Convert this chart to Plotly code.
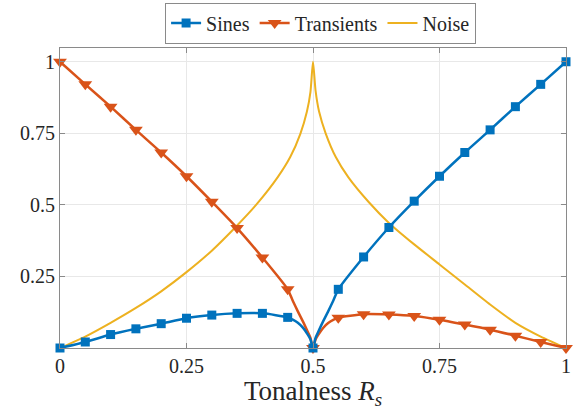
import plotly.graph_objects as go

# Marker positions (tonalness) and values
x_mark = [0.0, 0.05, 0.10, 0.15, 0.20, 0.25, 0.30, 0.35, 0.40, 0.45, 0.50,
          0.55, 0.60, 0.65, 0.70, 0.75, 0.80, 0.85, 0.90, 0.95, 1.0]
sines_mark = [0.0, 0.021, 0.047, 0.067, 0.085, 0.104, 0.115, 0.121, 0.121, 0.107, 0.0,
              0.205, 0.318, 0.421, 0.513, 0.600, 0.683, 0.762, 0.843, 0.921, 1.0]
trans_mark = [1.0, 0.921, 0.843, 0.762, 0.683, 0.600, 0.511, 0.419, 0.316, 0.205, 0.0,
              0.106, 0.118, 0.117, 0.112, 0.099, 0.082, 0.064, 0.043, 0.021, 0.0]

# Smooth line samples for sines / transients (markers plus points read near the cusp)
x_line = [0.0, 0.05, 0.10, 0.15, 0.20, 0.25, 0.30, 0.35, 0.40, 0.45, 0.46, 0.47, 0.48,
          0.49, 0.495, 0.50, 0.505, 0.51, 0.52, 0.53, 0.54, 0.55, 0.60, 0.65, 0.70,
          0.75, 0.80, 0.85, 0.90, 0.95, 1.0]
sines_line = [0.0, 0.021, 0.047, 0.067, 0.085, 0.104, 0.115, 0.121, 0.121, 0.107, 0.099,
              0.088, 0.071, 0.046, 0.030, 0.0, 0.035, 0.055, 0.093, 0.128, 0.165, 0.205,
              0.318, 0.421, 0.513, 0.600, 0.683, 0.762, 0.843, 0.921, 1.0]
trans_line = [1.0, 0.921, 0.843, 0.762, 0.683, 0.600, 0.511, 0.419, 0.316, 0.205, 0.165,
              0.128, 0.093, 0.055, 0.035, 0.0, 0.030, 0.045, 0.070, 0.087, 0.098, 0.106,
              0.118, 0.117, 0.112, 0.099, 0.082, 0.064, 0.043, 0.021, 0.0]

# Noise curve samples
x_noise = [0.0, 0.05, 0.10, 0.15, 0.20, 0.25, 0.30, 0.35, 0.39, 0.43, 0.455, 0.475,
           0.488, 0.495, 0.50, 0.505, 0.512, 0.525, 0.545, 0.57, 0.61, 0.65, 0.70,
           0.75, 0.80, 0.85, 0.90, 0.95, 1.0]
noise_line = [0.0, 0.040, 0.088, 0.140, 0.198, 0.265, 0.340, 0.428, 0.505, 0.596, 0.667,
              0.748, 0.826, 0.895, 1.0, 0.900, 0.826, 0.750, 0.667, 0.596, 0.510, 0.437,
              0.362, 0.292, 0.222, 0.152, 0.088, 0.040, 0.0]

x_ticks = [0, 0.25, 0.5, 0.75, 1]
x_tick_text = ["0", "0.25", "0.5", "0.75", "1"]
y_ticks = [0.25, 0.5, 0.75, 1]
y_tick_text = ["0.25", "0.5", "0.75", "1"]

BLUE = "#0072BD"
ORANGE = "#D95319"
YELLOW = "#EDB120"
FONT = "Liberation Serif, DejaVu Serif, serif"
TXT = "#262626"

fig = go.Figure()

# Smooth lines
fig.add_trace(go.Scatter(x=x_noise, y=noise_line, mode="lines", showlegend=False,
                         line=dict(color=YELLOW, width=2, shape="spline", smoothing=0.6),
                         cliponaxis=False, hoverinfo="skip"))
fig.add_trace(go.Scatter(x=x_line, y=trans_line, mode="lines", showlegend=False,
                         line=dict(color=ORANGE, width=2.5, shape="spline", smoothing=0.6),
                         cliponaxis=False, hoverinfo="skip"))
fig.add_trace(go.Scatter(x=x_line, y=sines_line, mode="lines", showlegend=False,
                         line=dict(color=BLUE, width=2.5, shape="spline", smoothing=0.6),
                         cliponaxis=False, hoverinfo="skip"))
# Markers
fig.add_trace(go.Scatter(x=x_mark, y=trans_mark, mode="markers", showlegend=False,
                         marker=dict(symbol="triangle-down", size=12, color=ORANGE),
                         cliponaxis=False))
fig.add_trace(go.Scatter(x=x_mark, y=sines_mark, mode="markers", showlegend=False,
                         marker=dict(symbol="square", size=9, color=BLUE),
                         cliponaxis=False))
# Legend entries
fig.add_trace(go.Scatter(x=[None], y=[None], mode="lines+markers", name="Sines",
                         line=dict(color=BLUE, width=2.5),
                         marker=dict(symbol="square", size=9, color=BLUE)))
fig.add_trace(go.Scatter(x=[None], y=[None], mode="lines+markers", name="Transients",
                         line=dict(color=ORANGE, width=2.5),
                         marker=dict(symbol="triangle-down", size=12, color=ORANGE)))
fig.add_trace(go.Scatter(x=[None], y=[None], mode="lines", name="Noise",
                         line=dict(color=YELLOW, width=2)))

axis_common = dict(
    showline=True, linecolor="#8a8a8a", linewidth=1, mirror="ticks",
    ticks="inside", ticklen=5, tickcolor="#8a8a8a",
    showgrid=True, gridcolor="#e8e8e8", gridwidth=1, zeroline=False,
    tickfont=dict(family=FONT, size=20, color=TXT),
    ticklabeloverflow="allow",
)

fig.update_xaxes(range=[0, 1], tickvals=x_ticks, ticktext=x_tick_text,
                 title=dict(text="Tonalness <i>R</i><sub><i>s</i></sub>",
                            font=dict(family=FONT, size=27, color=TXT), standoff=0),
                 **axis_common)
fig.update_yaxes(range=[0, 1.048], tickvals=y_ticks, ticktext=y_tick_text, **axis_common)

fig.update_layout(
    width=574, height=410,
    margin=dict(l=60, r=3, t=41, b=62),
    paper_bgcolor="white", plot_bgcolor="white",
    font=dict(family=FONT, color=TXT),
    legend=dict(orientation="h", x=0.515, xanchor="center", y=1.015, yanchor="bottom",
                bgcolor="white", bordercolor="#8a8a8a", borderwidth=1,
                font=dict(family=FONT, size=20, color=TXT),
                itemwidth=30, tracegroupgap=0),
)

fig.write_html("out.html")
